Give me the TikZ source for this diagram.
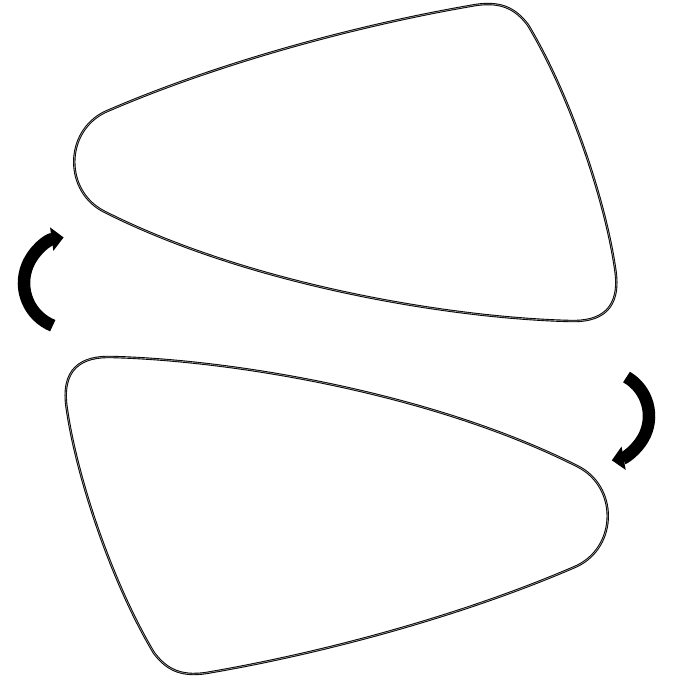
\documentclass[tikz,border=0pt]{standalone}
\usetikzlibrary{arrows.meta}
\tikzset{
  outline/.style={draw=black, line width=0.9pt, double=gray!75, double distance=0.6pt, line join=round},
  turnarrow/.style={line width=12.5pt, -{Triangle[width=23pt,length=12pt]}}
}
\begin{document}
\begin{tikzpicture}[x=1pt,y=-1pt]
\useasboundingbox (0,0) rectangle (684,686);
% top shape
\def\pieceshape{
  (105,212) .. controls (64,192) and (64,132) .. (105,112)
  .. controls (220,62) and (360,25) .. (470,6)
  .. controls (500,0) and (515,8) .. (528,25)
  .. controls (570,95) and (605,200) .. (615,268)
  .. controls (622,310) and (600,322) .. (570,321)
  .. controls (450,318) and (250,285) .. (105,212) -- cycle}
\draw[outline] \pieceshape;
% bottom shape: the same shape turned by 180 degrees
\begin{scope}[shift={(682,678)}, xscale=-1, yscale=-1]
\draw[outline] \pieceshape;
\end{scope}
% arrows
\coordinate (lc) at (70,283);
\draw[turnarrow] (lc) ++(112:46) arc[start angle=112, end angle=262, radius=46];
\coordinate (rc) at (604,416);
\draw[turnarrow] (rc) ++(-60:45) arc[start angle=-60, end angle=80, radius=45];
\end{tikzpicture}
\end{document}
